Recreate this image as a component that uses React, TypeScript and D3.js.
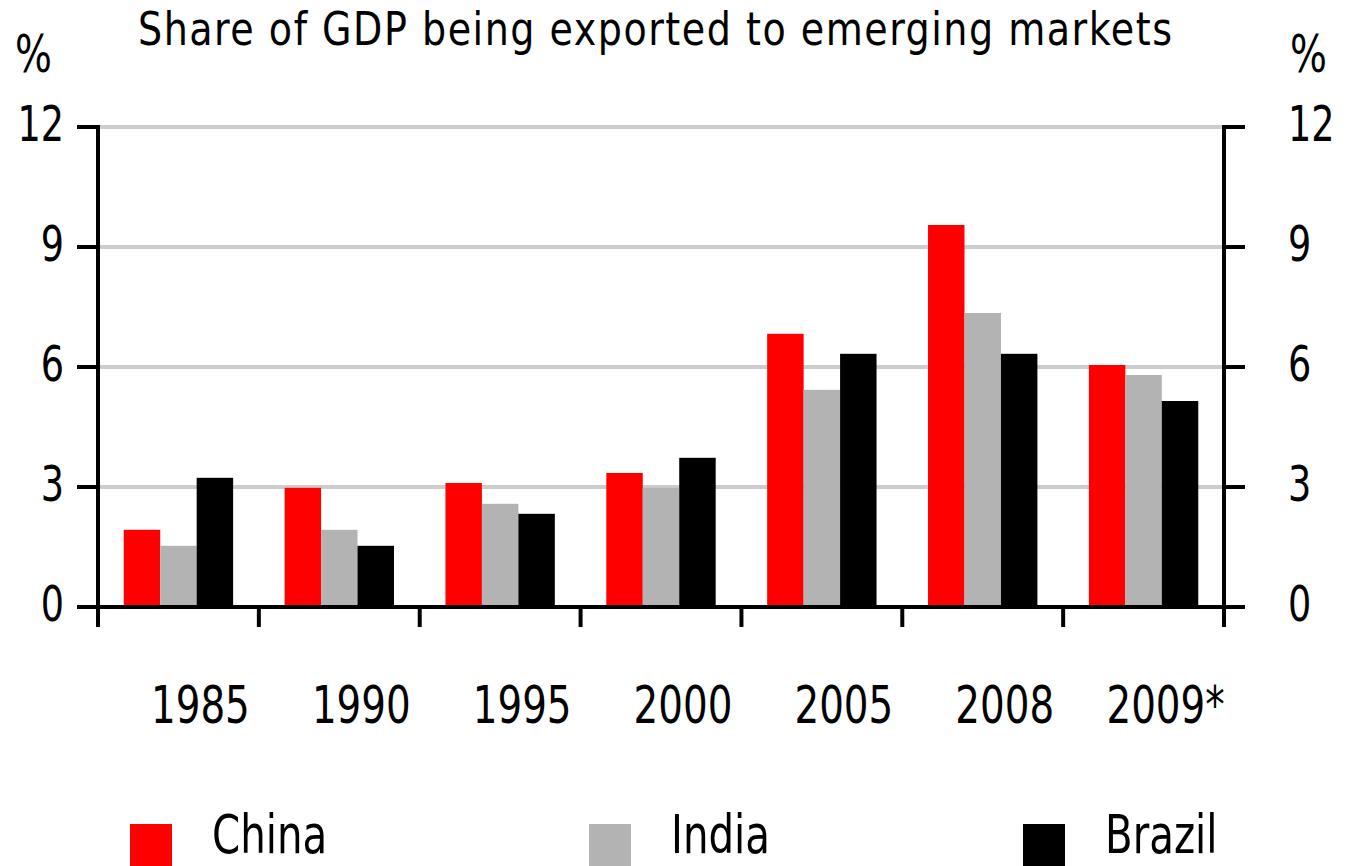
import React from 'react';
import * as d3 from 'd3';

const years = ['1985', '1990', '1995', '2000', '2005', '2008', '2009*'];
const china = [1.93, 2.98, 3.1, 3.35, 6.83, 9.55, 6.05];
const india = [1.53, 1.93, 2.58, 2.98, 5.43, 7.35, 5.8];
const brazil = [3.23, 1.53, 2.33, 3.73, 6.33, 6.33, 5.15];
const yTicks = [0, 3, 6, 9, 12];

const seriesNames = ['China', 'India', 'Brazil'];
const seriesValues = [china, india, brazil];
const colors = ['#ff0000', '#b3b3b3', '#000000'];

const W = 1354;
const H = 866;
const FONT = '"Liberation Sans Narrow", "DejaVu Sans Condensed", "Liberation Sans", sans-serif';
const SQUEEZE = 0.83;

// condensed text: horizontal squeeze around the anchor point
const T = ({ x, y, size, anchor = 'start', squeeze = SQUEEZE, len = undefined, children }) => (
  <text
    transform={`translate(${x},${y}) scale(${squeeze},1)`}
    fontSize={size}
    textAnchor={anchor}
    textLength={len}
    lengthAdjust={len ? 'spacing' : undefined}
    fill="#000"
  >
    {children}
  </text>
);

const App = () => {
  const left = 98;
  const right = 1224;
  const x = d3.scaleBand().domain(years).range([left, right]).paddingInner(0).paddingOuter(0);
  const bw = x.bandwidth();
  const inner = d3.scaleBand().domain(seriesNames).range([bw * 0.16, bw * 0.84]).padding(0);
  const y = d3.scaleLinear().domain([0, 12]).range([607, 127]);

  const boundaries = years.map(d => x(d)).concat([right]);
  const legendX = [130, 589, 1023];
  const titleSqueeze = 0.92;

  return (
    <svg width={W} height={H} style={{ position: 'absolute', left: 0, top: 0 }} fontFamily={FONT}>
      <rect width={W} height={H} fill="#fff" />

      {/* title */}
      <T x={138} y={45} size={46} squeeze={titleSqueeze} len={1034 / titleSqueeze}>
        Share of GDP being exported to emerging markets
      </T>
      <T x={15} y={72} size={52}>%</T>
      <T x={1290} y={72} size={52}>%</T>

      {/* gridlines */}
      {yTicks.filter(t => t > 0).map(t => (
        <line key={'g' + t} x1={left} x2={right} y1={y(t)} y2={y(t)} stroke="#cccccc" strokeWidth={4} />
      ))}

      {/* bars */}
      {years.map((yr, i) => (
        <g key={yr} transform={`translate(${x(yr)},0)`}>
          {seriesNames.map((s, j) => (
            <rect
              key={s}
              x={inner(s)}
              y={y(seriesValues[j][i])}
              width={inner.bandwidth()}
              height={y(0) - y(seriesValues[j][i])}
              fill={colors[j]}
            />
          ))}
        </g>
      ))}

      {/* axes */}
      <line x1={left} x2={right} y1={y(0)} y2={y(0)} stroke="#000" strokeWidth={4} />
      <line x1={left} x2={left} y1={y(12) - 2} y2={y(0) + 20} stroke="#000" strokeWidth={4} />
      <line x1={right} x2={right} y1={y(12) - 2} y2={y(0) + 20} stroke="#000" strokeWidth={4} />
      {boundaries.map((b, i) => (
        <line key={'xt' + i} x1={b} x2={b} y1={y(0)} y2={y(0) + 20} stroke="#000" strokeWidth={4} />
      ))}
      {yTicks.map(t => (
        <g key={'yt' + t}>
          <line x1={left - 21} x2={left} y1={y(t)} y2={y(t)} stroke="#000" strokeWidth={4} />
          <line x1={right} x2={right + 21} y1={y(t)} y2={y(t)} stroke="#000" strokeWidth={4} />
          <T x={64} y={y(t) + 14} size={49} anchor="end">{t}</T>
          <T x={1288} y={y(t) + 14} size={49}>{t}</T>
        </g>
      ))}

      {/* x labels */}
      {years.map(yr => (
        <T key={'xl' + yr} x={x(yr) + bw / 2 + 22} y={723} size={52} anchor="middle">{yr}</T>
      ))}

      {/* legend */}
      {seriesNames.map((s, j) => (
        <g key={'lg' + s}>
          <rect x={legendX[j]} y={824} width={42} height={42} fill={colors[j]} />
          <T x={legendX[j] + 82} y={853} size={54}>{s}</T>
        </g>
      ))}
    </svg>
  );
};

export default App;
